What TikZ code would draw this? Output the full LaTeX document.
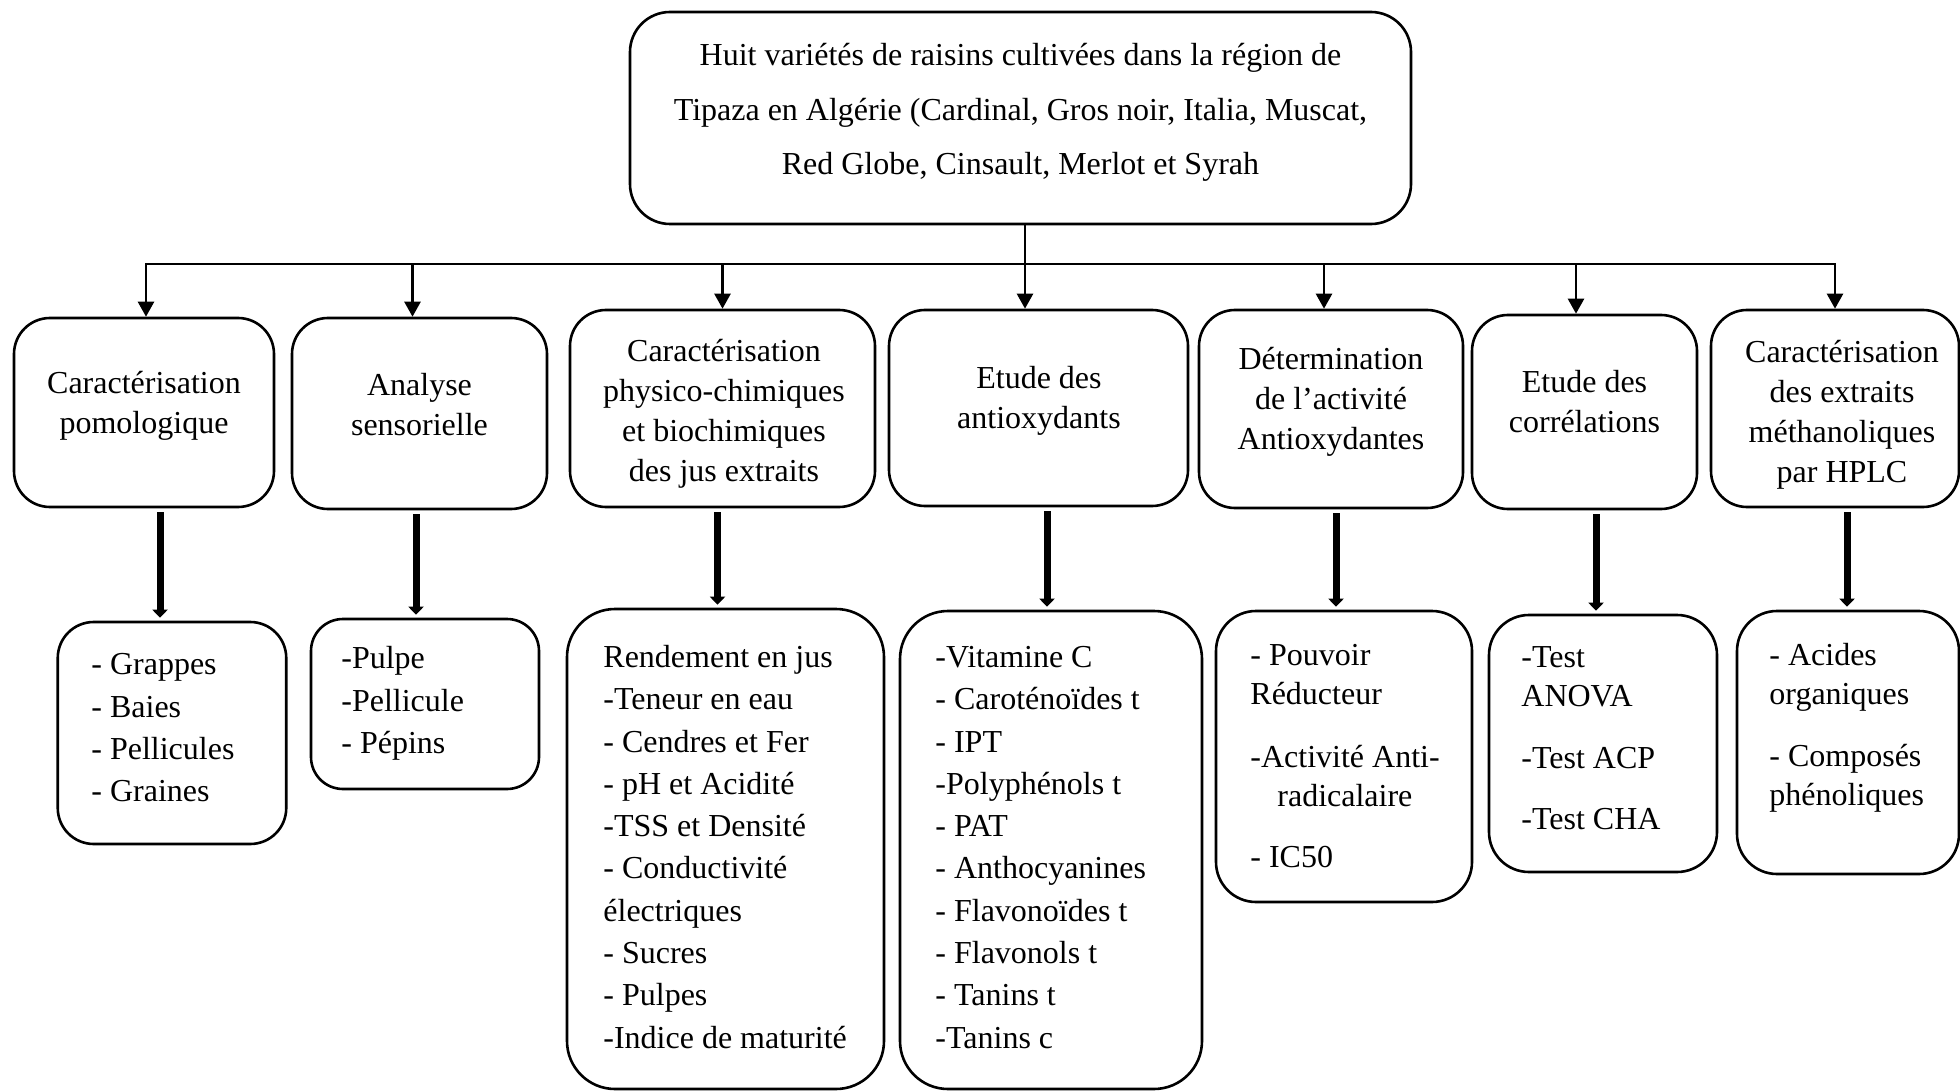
\documentclass[tikz,border=0pt]{standalone}
\usepackage{fontspec}
\setmainfont{Liberation Serif}
\usetikzlibrary{arrows.meta}
\begin{document}
\begin{tikzpicture}[x=0.5pt, y=-0.5pt,
    box/.style={draw, line width=1.3pt, rounded corners=18pt, inner sep=0pt},
    txt/.style={align=center, inner sep=0pt, font=\fontsize{16}{20}\selectfont,
        execute at begin node=\strut, execute at end node=\strut},
    list/.style={txt, align=left, anchor=west},
    branch/.style={line width=1.25pt, -{Triangle[width=8pt,length=7.5pt]}},
    heavy/.style={line width=3.5pt, shorten <=2pt, shorten >=1.5pt,
        -{Triangle[width=7.5pt,length=4pt]}}]
    \useasboundingbox (0,0) rectangle (1960,1091);
    % top box
    \node[box, rounded corners=20pt, minimum width=781*0.5pt, minimum height=212*0.5pt] (top) at (1020.5,118) {};
    \node[txt, font=\fontsize{16}{27.25}\selectfont] (topT) at (1020.5,117.5)
        {Huit variétés de raisins cultivées dans la région de\\
         Tipaza en Algérie (Cardinal, Gros noir, Italia, Muscat,\\
         Red Globe, Cinsault, Merlot et Syrah};
    % second row
    \foreach \n/\x/\y/\w/\h in {1/144/412.5/260/189, 2/419.5/413.5/255/191,
        3/722.5/408.5/305/197, 4/1038.5/408/299/196, 5/1331/409/264/198,
        6/1584.5/412/225/194, 7/1835/408.5/248/197}
        \node[box, minimum width=\w*0.5pt, minimum height=\h*0.5pt] (a\n) at (\x,\y) {};
    \node[txt] (ta1) at (144,408) {Caractérisation\\pomologique};
    \node[txt] (ta2) at (419.5,410) {Analyse\\sensorielle};
    \node[txt] (ta3) at (724,416) {Caractérisation\\physico-chimiques\\et biochimiques\\des jus extraits};
    \node[txt] (ta4) at (1039,403) {Etude des\\antioxydants};
    \node[txt] (ta5) at (1331,404) {Détermination\\de l’activité\\Antioxydantes};
    \node[txt] (ta6) at (1584.5,407.5) {Etude des\\corrélations};
    \node[txt] (ta7) at (1842,417) {Caractérisation\\des extraits\\méthanoliques\\par HPLC};
    % third row
    \foreach \n/\x/\y/\w/\h/\r in {1/172/733/228.5/222/18, 2/425/704/228/170/16,
        3/725.5/849/317/480/24, 4/1051/850/302/478/24, 5/1344/756.5/256/291/20,
        6/1603/743.5/228/257/20, 7/1848/742.5/222/263/20}
        \node[box, rounded corners=\r pt, minimum width=\w*0.5pt, minimum height=\h*0.5pt] (b\n) at (\x,\y) {};
    \begin{scope}[list/.append style={font=\fontsize{16}{21.15}\selectfont}]
        \node[list] (tb1) at (91,734) {- Grappes\\- Baies\\- Pellicules\\- Graines};
        \node[list] (tb2) at (341,706.5) {-Pulpe\\-Pellicule\\- Pépins};
        \node[list] (tb3) at (603,853) {Rendement en jus\\-Teneur en eau\\- Cendres et Fer\\- pH et Acidité\\-TSS et Densité\\- Conductivité\\électriques\\- Sucres\\- Pulpes\\-Indice de maturité};
        \node[list] (tb4) at (935,853.5) {-Vitamine C\\- Caroténoïdes t\\- IPT\\-Polyphénols t\\- PAT\\- Anthocyanines\\- Flavonoïdes t\\- Flavonols t\\- Tanins t\\-Tanins c};
    \end{scope}
    \begin{scope}[list/.append style={font=\fontsize{16}{19.5}\selectfont}]
        \node[list] (tb5) at (1250,761.5) {- Pouvoir\\Réducteur\\[12pt]-Activité Anti-\\\hspace*{13.5pt}radicalaire\\[11pt]- IC50};
        \node[list] (tb6) at (1521,743.5) {-Test\\ANOVA\\[11.5pt]-Test ACP\\[11pt]-Test CHA};
        \node[list] (tb7) at (1769,730) {- Acides\\organiques\\[11.5pt]- Composés\\phénoliques};
    \end{scope}
    % connectors
    \coordinate (stem) at (1025,264);
    \foreach \n/\x in {1/146, 2/412.5, 3/722.5, 5/1324, 6/1576, 7/1835}
        \coordinate (d\n) at (\x,264);
    \draw[line width=1.25pt, line cap=rect] (d1) -- (d7);
    \draw[branch] (top.south -| stem) -- (a4.north -| stem);
    \foreach \n in {1,2,3,5,6,7}
        \draw[branch] (d\n) -- (a\n.north -| d\n);
    \foreach \n/\x in {1/160, 2/416, 3/717.5, 4/1047, 5/1336, 6/1596, 7/1847} {
        \coordinate (h\n) at (\x,0);
        \draw[heavy] (a\n.south -| h\n) -- (b\n.north -| h\n);
    }
\end{tikzpicture}
\end{document}
